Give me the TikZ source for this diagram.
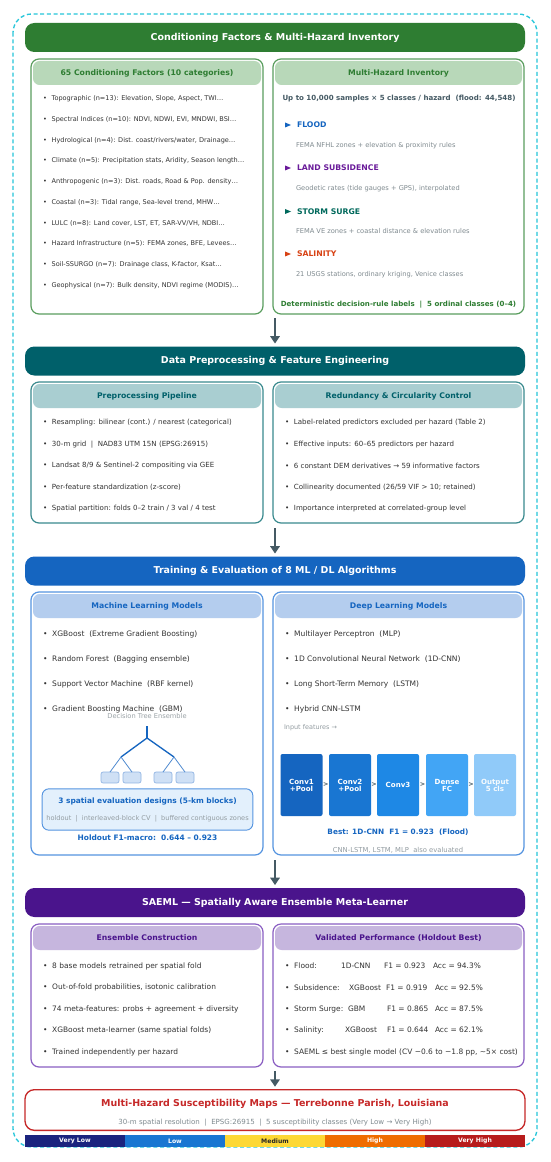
\documentclass[tikz,border=0pt]{standalone}
\usepackage{fontspec}
\setmainfont{DejaVu Sans}
\usetikzlibrary{arrows.meta,calc}
\newcommand\px{0.75pt}
\newcommand\fsz[1]{\fontsize{#1}{#1}\selectfont}
\definecolor{gHdr}{HTML}{2E7D32}
\definecolor{gBrd}{HTML}{5A9E5E}
\definecolor{gFill}{HTML}{B8D8B9}
\definecolor{tHdr}{HTML}{00606A}
\definecolor{tBrd}{HTML}{3A8A8E}
\definecolor{tFill}{HTML}{A9CED1}
\definecolor{bHdr}{HTML}{1565C0}
\definecolor{bBrd}{HTML}{5594E0}
\definecolor{bFill}{HTML}{B4CDEE}
\definecolor{pHdr}{HTML}{4A148C}
\definecolor{pBrd}{HTML}{8A5EC2}
\definecolor{pFill}{HTML}{C6B6DE}
\definecolor{rHdr}{HTML}{C62828}
\definecolor{txt}{HTML}{333333}
\definecolor{gry}{HTML}{808B90}
\definecolor{slate}{HTML}{455A64}
\definecolor{cyanB}{HTML}{26C6DA}
\definecolor{floodc}{HTML}{1565C0}
\definecolor{subsc}{HTML}{6A1B9A}
\definecolor{surgec}{HTML}{00695C}
\definecolor{salc}{HTML}{D84315}
\definecolor{vlow}{HTML}{1A237E}
\definecolor{lowc}{HTML}{1976D2}
\definecolor{medc}{HTML}{FDD835}
\definecolor{highc}{HTML}{EF6C00}
\definecolor{vhigh}{HTML}{B71C1C}
\definecolor{cA}{HTML}{1565C0}
\definecolor{cB}{HTML}{1976D2}
\definecolor{cC}{HTML}{1E88E5}
\definecolor{cD}{HTML}{42A5F5}
\definecolor{cE}{HTML}{90CAF9}
\definecolor{leafF}{HTML}{CFE0F5}
\definecolor{leafD}{HTML}{8FB3E3}
\definecolor{evalF}{HTML}{E3F0FC}
\newcommand\bi{•\hspace{3.6pt}}
\newcommand\mkpanel[9]{%
  \node[panel=#6, minimum width={(#4-(#2))*\px}, minimum height={(#5-(#3))*\px}] (#1) at (#2,#3) {};
  \node[phead={#7}{#8}, minimum width={(#4-(#2)-4)*\px}] (#1h) at ({(#2+#4)/2},#3+2) {#9};
}
\tikzset{
  base/.style={inner sep=0pt, outer sep=0pt},
  hdr/.style={base, rounded corners=7pt, fill=#1, text=white, font=\fsz{7.1}\bfseries,
              minimum width=375pt, minimum height=21.75pt},
  panel/.style={base, rounded corners=6pt, draw=#1, line width=0.9pt, fill=white, anchor=north west},
  phead/.style 2 args={base, rounded corners=5pt, fill=#1, text=#2, font=\fsz{5.8}\bfseries,
              minimum height=18pt, anchor=north},
  bl/.style={base, anchor=west, text=txt, font=\fsz{#1}},
  desc/.style={base, anchor=west, text=gry, font=\fsz{5.0}},
  haz/.style={base, anchor=west, text=#1, font=\fsz{5.8}\bfseries},
  arr/.style={draw=slate, line width=1.6pt, -{Triangle[length=5.5pt, width=7pt]}, shorten >=2.2pt},
  tline/.style={draw=bHdr, line width=1pt},
  leaf/.style={base, rounded corners=1.5pt, fill=leafF, draw=leafD, line width=0.5pt,
               minimum width=13.5pt, minimum height=8.2pt},
  cnn/.style={base, rounded corners=1.5pt, fill=#1, text=white, font=\fsz{5.3}\bfseries,
              minimum width=31.5pt, minimum height=46.5pt, align=center},
  chev/.style={base, text=slate, font=\fsz{4.8}\bfseries},
  barc/.style={base, fill=#1, text=white, font=\fsz{4.6}\bfseries, minimum width=75pt, minimum height=9pt},
}
\begin{document}
\begin{tikzpicture}[x=0.75pt, y=-0.75pt]
\useasboundingbox (0,0) rectangle (550,1162);
\fill[white] (0,0) rectangle (550,1162);
% outer dashed frame
\draw[draw=cyanB, line width=1pt, dash pattern=on 3pt off 2pt, rounded corners=14pt] (13,14) rectangle (537,1147);

% ================= Section 1 =================
\node[hdr=gHdr] (h1) at (275,37.5) {Conditioning Factors \& Multi-Hazard Inventory};
\mkpanel{p1l}{31}{59}{263}{314}{gBrd}{gFill}{gHdr}{65 Conditioning Factors (10 categories)}
\mkpanel{p1r}{273}{59}{524}{314}{gBrd}{gFill}{gHdr}{Multi-Hazard Inventory}

\node[bl=4.9] (f1) at (43,99) {\bi Topographic (n=13): Elevation, Slope, Aspect, TWI…};
\node[bl=4.9] (f2) at (43,119.7) {\bi Spectral Indices (n=10): NDVI, NDWI, EVI, MNDWI, BSI…};
\node[bl=4.9] (f3) at (43,140.4) {\bi Hydrological (n=4): Dist. coast/rivers/water, Drainage…};
\node[bl=4.9] (f4) at (43,161.1) {\bi Climate (n=5): Precipitation stats, Aridity, Season length…};
\node[bl=4.9] (f5) at (43,181.8) {\bi Anthropogenic (n=3): Dist. roads, Road \& Pop. density…};
\node[bl=4.9] (f6) at (43,202.5) {\bi Coastal (n=3): Tidal range, Sea-level trend, MHW…};
\node[bl=4.9] (f7) at (43,223.2) {\bi LULC (n=8): Land cover, LST, ET, SAR-VV/VH, NDBI…};
\node[bl=4.9] (f8) at (43,243.9) {\bi Hazard Infrastructure (n=5): FEMA zones, BFE, Levees…};
\node[bl=4.9] (f9) at (43,264.6) {\bi Soil-SSURGO (n=7): Drainage class, K-factor, Ksat…};
\node[bl=4.9] (f10) at (43,285.3) {\bi Geophysical (n=7): Bulk density, NDVI regime (MODIS)…};

\node[base, text=slate, font=\fsz{5.3}\bfseries] (inv) at (399,99) {Up to 10,000 samples × 5 classes / hazard\ \ (flood: 44,548)};
\fill[floodc] (285,122.5) -- (291,125) -- (285,127.5) -- cycle;
\node[haz=floodc] (hz1) at (297,125) {FLOOD};
\node[desc] (d1) at (296,146) {FEMA NFHL zones + elevation \& proximity rules};
\fill[subsc] (285,165.5) -- (291,168) -- (285,170.5) -- cycle;
\node[haz=subsc] (hz2) at (297,168) {LAND SUBSIDENCE};
\node[desc] (d2) at (296,188.5) {Geodetic rates (tide gauges + GPS), interpolated};
\fill[surgec] (285,209) -- (291,211.5) -- (285,214) -- cycle;
\node[haz=surgec] (hz3) at (297,211.5) {STORM SURGE};
\node[desc] (d3) at (296,231) {FEMA VE zones + coastal distance \& elevation rules};
\fill[salc] (285,251.5) -- (291,254) -- (285,256.5) -- cycle;
\node[haz=salc] (hz4) at (297,254) {SALINITY};
\node[desc] (d4) at (296,275) {21 USGS stations, ordinary kriging, Venice classes};
\node[base, text=gHdr, font=\fsz{5.3}\bfseries] (det) at (398.5,305) {Deterministic decision-rule labels\ \ |\ \ 5 ordinal classes (0–4)};

% ================= Section 2 =================
\node[hdr=tHdr] (h2) at (275,361) {Data Preprocessing \& Feature Engineering};
\mkpanel{p2l}{31}{382}{263}{523}{tBrd}{tFill}{tHdr}{Preprocessing Pipeline}
\mkpanel{p2r}{273}{382}{524}{523}{tBrd}{tFill}{tHdr}{Redundancy \& Circularity Control}

\node[bl=5.3] (q1) at (43,423) {\bi Resampling: bilinear (cont.) / nearest (categorical)};
\node[bl=5.3] (q2) at (43,444.5) {\bi 30-m grid\ \ |\ \ NAD83 UTM 15N (EPSG:26915)};
\node[bl=5.3] (q3) at (43,466) {\bi Landsat 8/9 \& Sentinel-2 compositing via GEE};
\node[bl=5.3] (q4) at (43,487.5) {\bi Per-feature standardization (z-score)};
\node[bl=5.3] (q5) at (43,509) {\bi Spatial partition: folds 0–2 train / 3 val / 4 test};

\node[bl=5.3] (r1) at (285,423) {\bi Label-related predictors excluded per hazard (Table 2)};
\node[bl=5.3] (r2) at (285,444.5) {\bi Effective inputs: 60–65 predictors per hazard};
\node[bl=5.3] (r3) at (285,466) {\bi 6 constant DEM derivatives → 59 informative factors};
\node[bl=5.3] (r4) at (285,487.5) {\bi Collinearity documented (26/59 VIF > 10; retained)};
\node[bl=5.3] (r5) at (285,509) {\bi Importance interpreted at correlated-group level};

% ================= Section 3 =================
\node[hdr=bHdr] (h3) at (275,571) {Training \& Evaluation of 8 ML / DL Algorithms};
\mkpanel{p3l}{31}{592}{263}{855}{bBrd}{bFill}{bHdr}{Machine Learning Models}
\mkpanel{p3r}{273}{592}{524}{855}{bBrd}{bFill}{bHdr}{Deep Learning Models}

\node[bl=5.65] (m1) at (43,634) {\bi XGBoost\ \ (Extreme Gradient Boosting)};
\node[bl=5.65] (m2) at (43,659) {\bi Random Forest\ \ (Bagging ensemble)};
\node[bl=5.65] (m3) at (43,684) {\bi Support Vector Machine\ \ (RBF kernel)};
\node[bl=5.65] (m4) at (43,709) {\bi Gradient Boosting Machine\ \ (GBM)};
\node[base, text=gry!80, font=\fsz{5.0}] (dte) at (147,716.5) {Decision Tree Ensemble};

% tree
\coordinate (tr) at (147,726);
\coordinate (ts) at (147,738);
\coordinate (tl) at (121,757);
\coordinate (tq) at (174,757);
\node[leaf] (l1) at (110,777.5) {};
\node[leaf] (l2) at (132,777.5) {};
\node[leaf] (l3) at (163,777.5) {};
\node[leaf] (l4) at (185,777.5) {};
\draw[tline] (tr) -- (ts);
\draw[tline] (ts) -- (tl);
\draw[tline] (ts) -- (tq);
\draw[tline, line width=0.6pt, draw=bHdr!75] (tl) -- (l1.north);
\draw[tline, line width=0.6pt, draw=bHdr!75] (tl) -- (l2.north);
\draw[tline, line width=0.6pt, draw=bHdr!75] (tq) -- (l3.north);
\draw[tline, line width=0.6pt, draw=bHdr!75] (tq) -- (l4.north);

\node[base, rounded corners=5pt, fill=evalF, draw=bBrd, line width=0.7pt,
      minimum width=158pt, minimum height=31pt] (ev) at (147.5,809.5) {};
\node[base, text=bHdr, font=\fsz{5.6}\bfseries] (evt) at (147.5,801) {3 spatial evaluation designs (5-km blocks)};
\node[base, text=gry!85, font=\fsz{4.95}] (evs) at (147.5,819) {holdout\ \ |\ \ interleaved-block CV\ \ |\ \ buffered contiguous zones};
\node[base, text=bHdr, font=\fsz{5.6}\bfseries] (hf) at (147.5,838) {Holdout F1-macro:\ \ 0.644 – 0.923};

\node[bl=5.65] (n1) at (285,634) {\bi Multilayer Perceptron\ \ (MLP)};
\node[bl=5.65] (n2) at (285,659) {\bi 1D Convolutional Neural Network\ \ (1D-CNN)};
\node[bl=5.65] (n3) at (285,684) {\bi Long Short-Term Memory\ \ (LSTM)};
\node[bl=5.65] (n4) at (285,709) {\bi Hybrid CNN-LSTM};
\node[base, anchor=west, text=gry!85, font=\fsz{4.85}] (inf) at (284,728) {Input features →};

\node[cnn=cA] (b1) at (301.5,785) {Conv1\\+Pool};
\node[cnn=cB] (b2) at (350,785) {Conv2\\+Pool};
\node[cnn=cC] (b3) at (398,785) {Conv3};
\node[cnn=cD] (b4) at (447,785) {Dense\\FC};
\node[cnn=cE, text=white!92!cE] (b5) at (495,785) {Output\\5 cls};
\node[chev] (c1) at ($(b1.east)!0.5!(b2.west)$) {>};
\node[chev] (c2) at ($(b2.east)!0.5!(b3.west)$) {>};
\node[chev] (c3) at ($(b3.east)!0.5!(b4.west)$) {>};
\node[chev] (c4) at ($(b4.east)!0.5!(b5.west)$) {>};
\node[base, text=bHdr, font=\fsz{5.5}\bfseries] (best) at (398,832) {Best: 1D-CNN\ \ F1 = 0.923\ \ (Flood)};
\node[base, text=gry!85, font=\fsz{5.1}] (alse) at (398,850) {CNN-LSTM, LSTM, MLP\ \ also evaluated};

% ================= Section 4 =================
\node[hdr=pHdr] (h4) at (275,902.5) {SAEML — Spatially Aware Ensemble Meta-Learner};
\mkpanel{p4l}{31}{924}{263}{1067}{pBrd}{pFill}{pHdr}{Ensemble Construction}
\mkpanel{p4r}{273}{924}{524}{1067}{pBrd}{pFill}{pHdr}{Validated Performance (Holdout Best)}

\node[bl=5.6] (e1) at (43,966) {\bi 8 base models retrained per spatial fold};
\node[bl=5.6] (e2) at (43,987.5) {\bi Out-of-fold probabilities, isotonic calibration};
\node[bl=5.6] (e3) at (43,1009) {\bi 74 meta-features: probs + agreement + diversity};
\node[bl=5.6] (e4) at (43,1030) {\bi XGBoost meta-learner (same spatial folds)};
\node[bl=5.6] (e5) at (43,1052) {\bi Trained independently per hazard};

\node[bl=5.6] (v1) at (285,966) {\bi Flood:};
\node[bl=5.6] (v1m) at (341,966) {1D-CNN};
\node[bl=5.6] (v1f) at (384,966) {F1 = 0.923};
\node[bl=5.6] (v1a) at (433,966) {Acc = 94.3\%};
\node[bl=5.6] (v2) at (285,987.5) {\bi Subsidence:};
\node[bl=5.6] (v2m) at (349,987.5) {XGBoost};
\node[bl=5.6] (v2f) at (386,987.5) {F1 = 0.919};
\node[bl=5.6] (v2a) at (435,987.5) {Acc = 92.5\%};
\node[bl=5.6] (v3) at (285,1009) {\bi Storm Surge:};
\node[bl=5.6] (v3m) at (348,1009) {GBM};
\node[bl=5.6] (v3f) at (387,1009) {F1 = 0.865};
\node[bl=5.6] (v3a) at (435,1009) {Acc = 87.5\%};
\node[bl=5.6] (v4) at (285,1030) {\bi Salinity:};
\node[bl=5.6] (v4m) at (345,1030) {XGBoost};
\node[bl=5.6] (v4f) at (387,1030) {F1 = 0.644};
\node[bl=5.6] (v4a) at (435,1030) {Acc = 62.1\%};
\node[bl=5.6] (v5) at (285,1052) {\bi SAEML ≤ best single model (CV −0.6 to −1.8 pp, \textasciitilde5× cost)};

% ================= Output =================
\node[base, draw=rHdr, line width=1pt, rounded corners=7pt, fill=white,
      minimum width=375pt, minimum height=30.5pt] (map) at (275,1110) {};
\node[base, text=rHdr, font=\fsz{7.1}\bfseries] (mapt) at (275,1104) {Multi-Hazard Susceptibility Maps — Terrebonne Parish, Louisiana};
\node[base, text=gry, font=\fsz{5.3}] (maps) at (275,1123) {30-m spatial resolution\ \ |\ \ EPSG:26915\ \ |\ \ 5 susceptibility classes (Very Low → Very High)};

\node[barc=vlow] (k1) at (75,1141) {Very Low};
\node[barc=lowc] (k2) at (175,1141) {Low};
\node[barc=medc, text=black!85] (k3) at (275,1141) {Medium};
\node[barc=highc] (k4) at (375,1141) {High};
\node[barc=vhigh] (k5) at (475,1141) {Very High};

% ================= Arrows =================
\coordinate (a1) at (275,318);
\coordinate (a2) at (275,528);
\coordinate (a3) at (275,860);
\coordinate (a4) at (275,1071);
\draw[arr] (a1) -- (h2.north);
\draw[arr] (a2) -- (h3.north);
\draw[arr] (a3) -- (h4.north);
\draw[arr] (a4) -- (map.north);
\end{tikzpicture}
\end{document}
